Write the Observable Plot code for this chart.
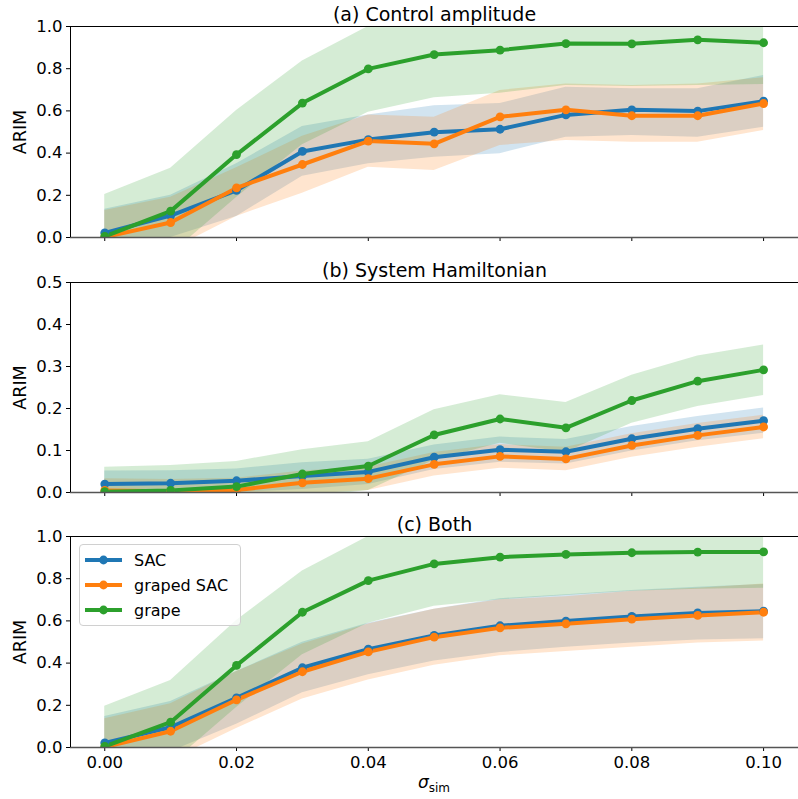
<!DOCTYPE html>
<html>
<head>
<meta charset="utf-8">
<script src="https://cdn.jsdelivr.net/npm/d3@7"></script>
<script src="https://cdn.jsdelivr.net/npm/@observablehq/plot@0.6"></script>
<style>
  html, body { margin: 0; padding: 0; background: white; }
  #fig { position: relative; width: 798px; height: 799px; font-family: "DejaVu Sans", sans-serif; overflow: hidden; }
  #fig > .panel { position: absolute; left: 0; }
  #xlabel { position: absolute; top: 772px; left: 384px; width: 100px; text-align: center; font-size: 17px; }
  #legend { position: absolute; left: 79px; top: 544px; width: 160px; height: 80px; border: 1px solid #d0d0d0; border-radius: 4px; background: rgba(255,255,255,0.8); }
</style>
</head>
<body>
<div id="fig"></div>
<script>
// ---- data ----
const sigma = [0, 0.01, 0.02, 0.03, 0.04, 0.05, 0.06, 0.07, 0.08, 0.09, 0.10];
const seriesNames = ["SAC", "graped SAC", "grape"];
const seriesColors = ["#1f77b4", "#ff7f0e", "#2ca02c"];
const panelTitles = ["(a) Control amplitude", "(b) System Hamiltonian", "(c) Both"];
const xTicks = [0, 0.02, 0.04, 0.06, 0.08, 0.10];
const yTicksA = [0, 0.2, 0.4, 0.6, 0.8, 1.0];
const yTicksB = [0, 0.1, 0.2, 0.3, 0.4, 0.5];
const yTicksC = [0, 0.2, 0.4, 0.6, 0.8, 1.0];

// (a) Control amplitude
const aSAC      = [0.022, 0.104, 0.223, 0.408, 0.464, 0.499, 0.513, 0.581, 0.605, 0.599, 0.646];
const aSAClo    = [-0.10, 0.00, 0.10, 0.29, 0.35, 0.38, 0.397, 0.475, 0.483, 0.475, 0.523];
const aSAChi    = [0.134, 0.20, 0.35, 0.526, 0.581, 0.625, 0.635, 0.712, 0.705, 0.705, 0.768];
const aGSAC     = [0.002, 0.071, 0.235, 0.346, 0.457, 0.444, 0.572, 0.605, 0.577, 0.577, 0.635];
const aGSAClo   = [-0.13, -0.06, 0.10, 0.21, 0.333, 0.318, 0.436, 0.46, 0.452, 0.452, 0.507];
const aGSAChi   = [0.128, 0.191, 0.33, 0.48, 0.58, 0.57, 0.697, 0.728, 0.72, 0.728, 0.757];
const aGrape    = [0.005, 0.125, 0.393, 0.637, 0.799, 0.867, 0.888, 0.919, 0.918, 0.937, 0.923];
const aGrapelo  = [-0.19, -0.08, 0.19, 0.44, 0.594, 0.662, 0.684, 0.72, 0.716, 0.72, 0.725];
const aGrapehi  = [0.204, 0.328, 0.602, 0.836, 1.0, 1.07, 1.09, 1.12, 1.12, 1.14, 1.12];

// (b) System Hamiltonian
const bSAC      = [0.020, 0.022, 0.028, 0.039, 0.049, 0.084, 0.102, 0.097, 0.128, 0.152, 0.171];
const bSAClo    = [-0.011, -0.008, 0.0, 0.007, 0.019, 0.055, 0.072, 0.068, 0.099, 0.123, 0.141];
const bSAChi    = [0.051, 0.052, 0.056, 0.071, 0.079, 0.113, 0.132, 0.126, 0.157, 0.181, 0.201];
const bGSAC     = [0.005, 0.003, 0.006, 0.023, 0.033, 0.067, 0.086, 0.080, 0.112, 0.136, 0.156];
const bGSAClo   = [-0.023, -0.025, -0.022, -0.005, 0.005, 0.039, 0.058, 0.052, 0.084, 0.108, 0.128];
const bGSAChi   = [0.033, 0.031, 0.034, 0.051, 0.061, 0.095, 0.114, 0.108, 0.140, 0.164, 0.184];
const bGrape    = [0.002, 0.005, 0.014, 0.044, 0.063, 0.137, 0.175, 0.154, 0.219, 0.265, 0.292];
const bGrapelo  = [-0.056, -0.054, -0.046, -0.014, 0.005, 0.077, 0.117, 0.096, 0.165, 0.205, 0.231];
const bGrapehi  = [0.060, 0.064, 0.074, 0.102, 0.121, 0.197, 0.233, 0.214, 0.279, 0.325, 0.351];

// (c) Both
const cSAC      = [0.022, 0.096, 0.235, 0.378, 0.466, 0.531, 0.577, 0.599, 0.621, 0.638, 0.646];
const cSAClo    = [-0.10, -0.02, 0.11, 0.26, 0.345, 0.41, 0.45, 0.475, 0.495, 0.51, 0.515];
const cSAChi    = [0.147, 0.218, 0.36, 0.499, 0.589, 0.655, 0.705, 0.724, 0.744, 0.76, 0.773];
const cGSAC     = [0.002, 0.077, 0.226, 0.359, 0.453, 0.523, 0.567, 0.586, 0.608, 0.626, 0.641];
const cGSAClo   = [-0.13, -0.06, 0.09, 0.23, 0.32, 0.39, 0.435, 0.455, 0.475, 0.495, 0.505];
const cGSAChi   = [0.136, 0.207, 0.36, 0.49, 0.585, 0.655, 0.70, 0.715, 0.74, 0.755, 0.775];
const cGrape    = [0.005, 0.12, 0.389, 0.641, 0.791, 0.870, 0.902, 0.915, 0.923, 0.926, 0.927];
const cGrapelo  = [-0.19, -0.08, 0.19, 0.44, 0.589, 0.67, 0.70, 0.72, 0.74, 0.75, 0.755];
const cGrapehi  = [0.196, 0.318, 0.602, 0.836, 1.0, 1.07, 1.10, 1.12, 1.12, 1.13, 1.13];

// ---- build tables ----
function rowsFor(means, los, his) {
  const out = [];
  seriesNames.forEach((s, k) => {
    sigma.forEach((x, i) => out.push({s, x, y: means[k][i], lo: los[k][i], hi: his[k][i]}));
  });
  return out;
}
const panels = [
  {title: panelTitles[0], rows: rowsFor([aSAC, aGSAC, aGrape], [aSAClo, aGSAClo, aGrapelo], [aSAChi, aGSAChi, aGrapehi]),
   yDomain: [0, 1], yTicks: yTicksA, top: 0, height: 246, marginBottom: 9, xLabels: false},
  {title: panelTitles[1], rows: rowsFor([bSAC, bGSAC, bGrape], [bSAClo, bGSAClo, bGrapelo], [bSAChi, bGSAChi, bGrapehi]),
   yDomain: [0, 0.5], yTicks: yTicksB, top: 256, height: 246, marginBottom: 10, xLabels: false},
  {title: panelTitles[2], rows: rowsFor([cSAC, cGSAC, cGrape], [cSAClo, cGSAClo, cGrapelo], [cSAChi, cGSAChi, cGrapehi]),
   yDomain: [0, 1], yTicks: yTicksC, top: 510, height: 289, marginBottom: 52, xLabels: true}
];

const fig = document.getElementById("fig");
const fmtY = d3.format(".1f");
const fmtX = d3.format(".2f");

panels.forEach(p => {
  const chart = Plot.plot({
    width: 798,
    height: p.height,
    marginLeft: 70,
    marginRight: 0,
    marginTop: 26,
    marginBottom: p.marginBottom,
    style: {fontFamily: "DejaVu Sans, sans-serif", fontSize: "16px", color: "black", background: "transparent", overflow: "visible"},
    x: {domain: [-0.0052, 0.1053]},
    y: {domain: p.yDomain},
    color: {domain: seriesNames, range: seriesColors},
    marks: [
      Plot.areaY(p.rows, {x: "x", y1: "lo", y2: "hi", z: "s", fill: "s", fillOpacity: 0.2, clip: true}),
      Plot.lineY(p.rows, {x: "x", y: "y", z: "s", stroke: "s", strokeWidth: 4, clip: true}),
      Plot.dot(p.rows, {x: "x", y: "y", fill: "s", r: 4.4, clip: true}),
      Plot.axisY({ticks: p.yTicks, tickFormat: fmtY, tickSize: 4, tickPadding: 4, fontSize: 16.5,
                  label: "ARIM", labelAnchor: "center", labelArrow: "none", labelOffset: 57}),
      Plot.axisX({ticks: xTicks, tickSize: 4, tickPadding: 5, fontSize: 16.5,
                  tickFormat: p.xLabels ? fmtX : () => "", label: null}),
      Plot.ruleY([p.yDomain[0]], {stroke: "#555", strokeWidth: 1.6}),
      Plot.ruleY([p.yDomain[1]], {stroke: "black", strokeWidth: 1}),
      Plot.ruleX([-0.0052], {stroke: "black", strokeWidth: 1}),
      Plot.text([p.title], {frameAnchor: "top", dy: -19, fontSize: 19, fill: "black"})
    ]
  });
  chart.classList.add("panel");
  chart.style.top = p.top + "px";
  fig.appendChild(chart);
});

// y-axis label font size tweak
fig.querySelectorAll("svg [aria-label='y-axis label'] text").forEach(t => t.setAttribute("font-size", "17.5"));

// x label
const xl = document.createElement("div");
xl.id = "xlabel";
xl.innerHTML = "<i>σ</i><sub style='font-size:12px'>sim</sub>";
fig.appendChild(xl);

// legend
const leg = document.createElement("div");
leg.id = "legend";
fig.appendChild(leg);
const lsvg = d3.select(leg).append("svg").attr("width", 160).attr("height", 80);
seriesNames.forEach((name, k) => {
  const g = lsvg.append("g").attr("transform", `translate(0, ${15 + k * 25})`);
  g.append("line").attr("x1", 5).attr("x2", 42).attr("y1", 0).attr("y2", 0)
    .attr("stroke", seriesColors[k]).attr("stroke-width", 4);
  g.append("circle").attr("cx", 23.5).attr("cy", 0).attr("r", 4.4).attr("fill", seriesColors[k]);
  g.append("text").attr("x", 54).attr("y", 0).attr("dy", "0.35em")
    .attr("font-family", "DejaVu Sans, sans-serif").attr("font-size", 16).text(name);
});
</script>
</body>
</html>
